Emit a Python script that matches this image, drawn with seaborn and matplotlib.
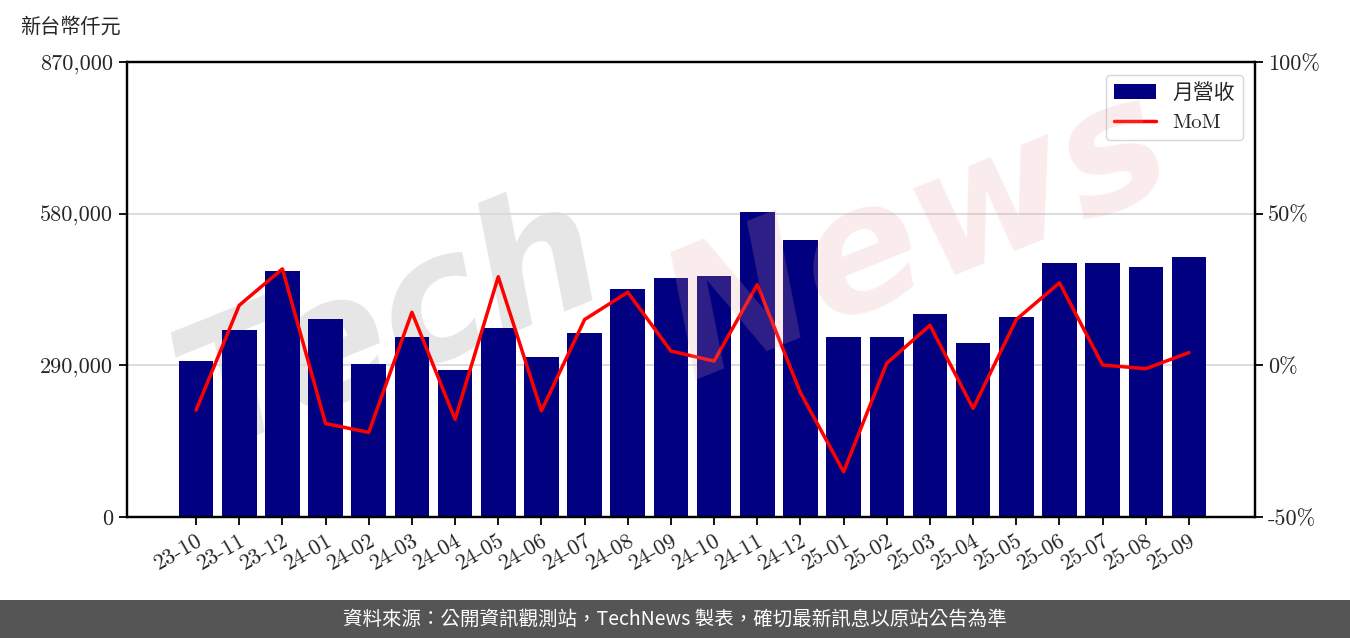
import numpy as np
import pandas as pd
import seaborn as sns
import matplotlib.pyplot as plt
from matplotlib.patches import Rectangle
from matplotlib.ticker import FuncFormatter

# 月份、月營收(新台幣仟元)、MoM(%)
months = ["23-10", "23-11", "23-12", "24-01", "24-02", "24-03", "24-04", "24-05",
          "24-06", "24-07", "24-08", "24-09", "24-10", "24-11", "24-12", "25-01",
          "25-02", "25-03", "25-04", "25-05", "25-06", "25-07", "25-08", "25-09"]
revenue = [298300, 357500, 470400, 378600, 292500, 344200, 281000, 361400,
           305900, 351800, 435900, 457000, 460800, 583200, 529600, 344200,
           344200, 388100, 332700, 382400, 485600, 485600, 478000, 497100]
mom = [-14.8, 19.8, 31.8, -19.2, -22.1, 17.5, -17.8, 29.2, -15.0, 15.1, 24.1, 4.7,
       1.4, 26.6, -9.0, -35.1, 0.7, 13.2, -14.2, 15.1, 27.2, 0.1, -1.1, 4.2]

left_ticks = [0, 290000, 580000, 870000]
right_ticks = [-50, 0, 50, 100]

df = pd.DataFrame({"month": months, "revenue": revenue, "mom": mom})

sns.set_theme(style="white")
serif = ['cmr10', 'Noto Sans CJK TC', 'DejaVu Sans']
cjk = ['Noto Sans CJK TC', 'DejaVu Sans']
plt.rcParams['font.family'] = serif
plt.rcParams['axes.unicode_minus'] = False

fig = plt.figure(figsize=(13.5, 6.38), dpi=100)
ax = fig.add_axes([127 / 1350, 1 - 517 / 638, (1255 - 127) / 1350, (517 - 62) / 638])

sns.barplot(data=df, x="month", y="revenue", color="#000080", saturation=1,
            width=0.8, linewidth=0, ax=ax, label="月營收", zorder=2)
if ax.get_legend() is not None:
    ax.get_legend().remove()
ax.set_xlim(-1.6, 24.53)
ax.set_ylim(0, 870000)
ax.set_yticks(left_ticks)
ax.yaxis.set_major_formatter(FuncFormatter(lambda v, p: f"{int(v):,}"))
ax.grid(axis="y", color="#d9d9d9", lw=1.3, zorder=0)
ax.set_axisbelow(True)
ax.set_xlabel("")
ax.set_ylabel("")
ax.tick_params(axis="both", labelsize=16, length=6, width=1.3, color="black",
               left=True, bottom=True, pad=4)
plt.setp(ax.get_xticklabels(), rotation=30, ha="right", rotation_mode="anchor")
ax.patch.set_alpha(0)

ax2 = ax.twinx()
sns.lineplot(x=np.arange(len(mom)), y=mom, color="red", lw=2.5, ax=ax2,
             label="MoM", legend=False, zorder=3)
ax2.set_ylim(-50, 100)
ax2.set_yticks(right_ticks)
ax2.yaxis.set_major_formatter(FuncFormatter(lambda v, p: f"{int(v)}%"))
ax2.tick_params(axis="y", labelsize=16, length=6, width=1.3, color="black", right=True)
ax2.set_ylabel("")
ax2.patch.set_alpha(0)

for a in (ax, ax2):
    for s in a.spines.values():
        s.set_color("black")
        s.set_linewidth(1.6)

h1, l1 = ax.get_legend_handles_labels()
h2, l2 = ax2.get_legend_handles_labels()
leg = ax2.legend(h1 + h2, l1 + l2, loc="upper right", fontsize=15,
                 frameon=True, fancybox=True, borderpad=0.4, handlelength=2.0,
                 bbox_to_anchor=(0.999, 0.995))
leg.get_frame().set_edgecolor("#cccccc")
for t in leg.get_texts():
    t.set_family(serif)

# 浮水印
fig.text(0.29, 0.49, "Tech", fontsize=125, color="#e6e6e6", rotation=22,
         ha="center", va="center", style="italic", weight="bold",
         family="DejaVu Sans", zorder=-1)
fig.text(0.68, 0.63, "News", fontsize=125, color="#e8a0a0", alpha=0.2,
         rotation=22, ha="center", va="center", style="italic", weight="bold",
         family="DejaVu Sans", zorder=5)

fig.text(20 / 1350, 1 - 27 / 638, "新台幣仟元", fontsize=14.5, va="center", ha="left",
         family=cjk)

fig.patches.append(Rectangle((0, 0), 1, 38 / 638, transform=fig.transFigure,
                             facecolor="#555555", edgecolor="none", zorder=0))
fig.text(0.5, 19 / 638, "資料來源：公開資訊觀測站，TechNews 製表，確切最新訊息以原站公告為準",
         color="white", fontsize=14, ha="center", va="center", family=cjk)

fig.savefig("out.png", dpi=100)
